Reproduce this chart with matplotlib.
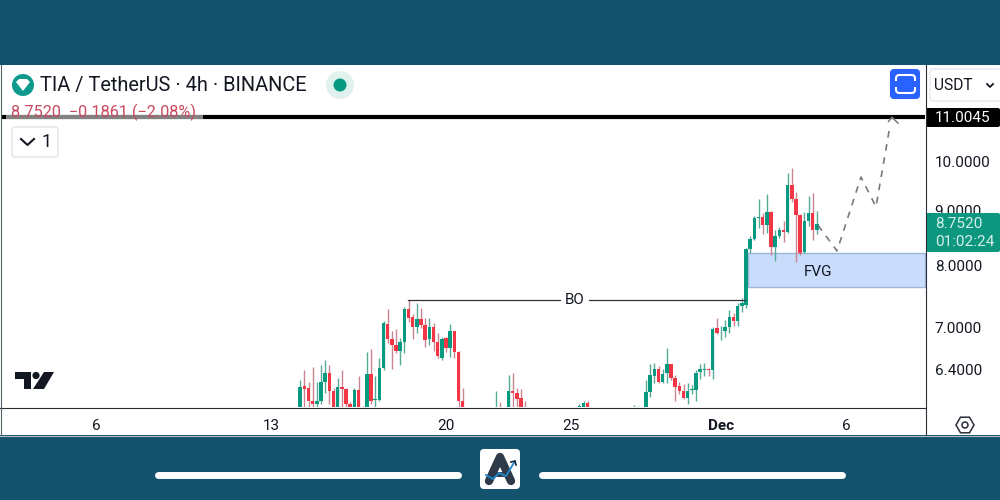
import matplotlib
matplotlib.use('Agg')
import matplotlib.pyplot as plt
from matplotlib.patches import FancyBboxPatch, Circle, Rectangle, Polygon
import numpy as np

plt.rcParams['font.family'] = ['Roboto', 'DejaVu Sans']

# 4h candles, index counted from 6 Nov (6 candles a day), hidden ones left out
candle_idx = (list(range(49, 89)) + [96, 97] + list(range(99, 104))
              + [116, 117, 118, 129, 130] + list(range(132, 174)))

opens = [5.85, 6.17, 6.14, 5.98, 5.93, 5.98, 6.22, 6.35, 6.10, 5.85,
         6.16, 6.13, 5.94, 5.85, 6.12, 5.88, 5.90, 6.33, 5.99, 5.99,
         6.42, 7.05, 6.83, 6.74, 6.66, 6.79, 7.28, 7.15, 7.00, 7.12,
         7.04, 6.82, 7.00, 6.79, 6.56, 6.84, 6.69, 6.94, 6.64, 5.97,
         5.82, 5.86,
         5.85, 6.11, 6.08, 6.01, 5.87,
         5.85, 5.85, 5.95, 5.85, 5.85,
         5.85, 6.09, 6.30, 6.40, 6.23, 6.34, 6.47, 6.28, 6.17, 6.10,
         6.01, 6.12, 6.12, 6.36, 6.39, 6.40, 6.39, 6.99, 6.94, 6.95,
         7.00, 7.15, 7.09, 7.33, 7.35, 8.28, 8.47, 8.85, 8.87, 8.72,
         8.98, 8.32, 8.52, 8.63, 8.60, 9.51, 9.23, 8.91, 8.23, 8.79,
         8.95, 8.63]
highs = [6.25, 6.38, 6.22, 6.43, 6.23, 6.45, 6.53, 6.46, 6.14, 6.28,
         6.38, 6.15, 5.96, 6.14, 6.30, 5.91, 6.64, 6.68, 6.30, 6.56,
         7.10, 7.28, 6.95, 6.98, 6.84, 7.31, 7.42, 7.21, 7.38, 7.29,
         7.14, 7.14, 7.06, 6.91, 6.85, 6.86, 7.05, 6.95, 6.66, 6.14,
         6.10, 5.96,
         6.32, 6.35, 6.14, 6.13, 5.97,
         5.94, 5.98, 5.97, 5.92, 5.91,
         6.25, 6.47, 6.48, 6.44, 6.40, 6.69, 6.47, 6.32, 6.23, 6.20,
         6.21, 6.18, 6.39, 6.47, 6.49, 6.42, 7.01, 7.14, 7.02, 7.11,
         7.27, 7.22, 7.37, 7.45, 8.30, 8.52, 8.90, 9.22, 8.95, 9.32,
         8.99, 8.63, 8.69, 8.79, 9.75, 9.86, 9.37, 8.94, 8.98, 9.29,
         9.34, 9.00]
lows = [5.80, 5.85, 5.85, 5.85, 5.85, 5.93, 6.08, 5.93, 5.80, 5.80,
        5.85, 5.85, 5.80, 5.80, 5.80, 5.80, 5.85, 5.93, 5.85, 5.97,
        6.39, 6.77, 6.40, 6.63, 6.45, 6.62, 7.08, 6.83, 6.91, 6.99,
        6.71, 6.74, 6.66, 6.55, 6.52, 6.64, 6.57, 6.56, 5.85, 5.80,
        5.80, 5.80,
        5.80, 5.85, 5.90, 5.80, 5.80,
        5.80, 5.80, 5.80, 5.80, 5.80,
        5.80, 6.03, 6.21, 6.21, 6.21, 6.21, 6.25, 5.98, 6.07, 6.00,
        5.94, 6.06, 5.98, 6.27, 6.30, 6.31, 6.27, 6.90, 6.81, 6.85,
        6.92, 7.02, 7.02, 7.24, 7.29, 8.22, 8.45, 8.67, 8.55, 8.57,
        8.18, 8.08, 8.49, 8.41, 8.58, 9.17, 8.05, 8.18, 8.21, 8.70,
        8.45, 8.55]
closes = [6.16, 6.13, 5.98, 5.93, 5.98, 6.22, 6.35, 6.10, 5.85, 6.16,
          6.13, 5.93, 5.85, 6.12, 5.85, 5.82, 6.33, 5.98, 6.00, 6.42,
          7.06, 6.83, 6.74, 6.65, 6.79, 7.28, 7.14, 7.00, 7.12, 7.04,
          6.81, 7.00, 6.79, 6.58, 6.82, 6.69, 6.94, 6.64, 5.97, 5.85,
          5.87, 5.82,
          6.10, 6.08, 6.00, 5.85, 5.82,
          5.91, 5.95, 5.85, 5.87, 5.87,
          6.09, 6.32, 6.40, 6.22, 6.33, 6.47, 6.28, 6.16, 6.10, 6.01,
          6.11, 6.13, 6.35, 6.40, 6.40, 6.38, 6.97, 6.92, 6.95, 7.00,
          7.16, 7.09, 7.33, 7.37, 8.28, 8.46, 8.85, 8.88, 8.72, 8.98,
          8.32, 8.52, 8.63, 8.60, 9.51, 9.23, 8.91, 8.21, 8.79, 8.95,
          8.63, 8.75]

# drawings on the chart (days since 6 Nov, price)
path_days = [28.88, 29.64, 30.6, 31.2, 31.76]
path_prices = [8.72, 8.25, 9.67, 9.07, 10.80]
arrow_days = [31.7, 31.84, 32.08]
arrow_prices = [10.9, 11.0, 10.86]
fvg_days = [26.08, 33.16]
fvg_prices = [7.63, 8.21]
bo_days = [12.48, 25.96]
bo_price = 7.43
target_price = 11.0045

price_ticks = [6.4, 7, 8, 9, 10]
price_labels = ['6.4000', '7.0000', '8.0000', '9.0000', '10.0000']
day_ticks = [0, 7, 14, 19, 25, 30]
day_labels = ['6', '13', '20', '25', 'Dec', '6']

TEAL = '#14536d'
GREEN = '#089981'
RED = '#f23645'

fig = plt.figure(figsize=(10, 5), dpi=100, facecolor=TEAL)


def chrome_axes(z):
    a = fig.add_axes([0, 0, 1, 1], zorder=z)
    a.set_xlim(0, 1000)
    a.set_ylim(500, 0)
    a.axis('off')
    a.patch.set_alpha(0)
    return a


def rbox(a, x, y, w, h, r, **kw):
    a.add_patch(FancyBboxPatch((x, y), w, h, boxstyle='round,pad=0,rounding_size=%g' % r, **kw))


back = chrome_axes(0)
back.add_patch(Rectangle((0, 64.5), 1000, 370.5, color='white', lw=0))

#---------------------------------------------------------------------------------
# price chart
#---------------------------------------------------------------------------------
ax = fig.add_axes([0.001, 93 / 500, 0.924, 342 / 500], zorder=1)
ax.patch.set_alpha(0)
ax.set_yscale('log')
ax.set_xlim(-3.8, 33.16)
ax.set_ylim(5.898, 12.307)
for s in ax.spines.values():
    s.set_visible(False)

days = np.array(candle_idx) / 6
o = np.array(opens)
c = np.array(closes)
up = c >= o
ax.vlines(days[up], np.array(lows)[up], np.array(highs)[up], color='#55ab98', lw=1.0, zorder=2)
ax.vlines(days[~up], np.array(lows)[~up], np.array(highs)[~up], color='#c98490', lw=1.0, zorder=2)
body_bottom = np.minimum(o, c)
body_height = np.maximum(np.abs(c - o), 0.012)
ax.bar(days, body_height, bottom=body_bottom, width=0.145,
       color=[GREEN if u else RED for u in up], lw=0, zorder=3)

ax.fill_between(fvg_days, fvg_prices[0], fvg_prices[1], facecolor='#c9dcfb',
                edgecolor='#9db7d6', lw=1, zorder=1)
ax.text(28.88, 7.89, 'FVG', fontsize=11, ha='center', va='center', color='#131722', zorder=5)
ax.plot(bo_days, [bo_price, bo_price], color='#333333', lw=0.9, zorder=4)
ax.text(19.16, bo_price, 'BO', fontsize=10.8, ha='center', va='center', color='#131722', zorder=5,
        bbox=dict(facecolor='white', edgecolor='none', pad=3))
ax.axhline(target_price, color='black', lw=3, zorder=4)
ax.plot(path_days, path_prices, color='#77797e', lw=1.2, dashes=(4, 4), zorder=5)
ax.plot(arrow_days, arrow_prices, color='#77797e', lw=1.1, zorder=5)

ax.yaxis.tick_right()
ax.minorticks_off()
ax.set_yticks(price_ticks)
ax.set_yticklabels(price_labels)
ax.set_xticks(day_ticks)
ax.set_xticklabels(day_labels)
ax.tick_params(axis='y', which='both', length=0, pad=7, labelsize=11, labelcolor='#131722')
ax.tick_params(axis='x', which='both', length=0, pad=9, labelsize=11, labelcolor='#131722')
ax.get_xticklabels()[4].set_fontweight('bold')

#---------------------------------------------------------------------------------
# everything around the chart
#---------------------------------------------------------------------------------
top = chrome_axes(2)
top.plot([0, 925], [407.5, 407.5], color='#2a2e39', lw=0.8)
top.plot([925.5, 925.5], [65, 435], color='#2a2e39', lw=0.8)
top.plot([0.5, 0.5], [65, 435], color='#55606a', lw=0.8)
top.plot([0, 1000], [435.5, 435.5], color='#b8bcc4', lw=0.8)

# header
top.add_patch(Circle((23, 85), 11, color='#0f9a8e', lw=0))
top.add_patch(Polygon([[16, 82], [19, 79], [27, 79], [30, 82], [23, 91]], color='white', lw=0))
top.text(40, 85, 'TIA / TetherUS · 4h · BINANCE', fontsize=14.45, va='center', color='#131722')
top.add_patch(Circle((340, 85), 14, color='#e1f1ee', lw=0))
top.add_patch(Circle((340, 85), 6.5, color=GREEN, lw=0))
top.text(11, 112, '8.7520  −0.1861 (−2.08%)', fontsize=11.7, va='center', color='#c9495f')
top.add_patch(Rectangle((6, 115), 197, 4, color='#9a9a9a', alpha=0.85, lw=0))

rbox(top, 12, 127, 46, 30, 3, facecolor='white', edgecolor='#e0e3eb', lw=1)
top.plot([21, 27.5, 34], [139, 145, 139], color='#131722', lw=1.5)
top.text(47, 142, '1', fontsize=13, ha='center', va='center', color='#131722')

# fullscreen button
rbox(top, 890, 69, 30, 30, 4, facecolor='#2962ff', edgecolor='none')
rbox(top, 896, 75, 19, 18, 3.5, facecolor='none', edgecolor='white', lw=1.5)
top.add_patch(Rectangle((893, 81), 25, 6, color='#2962ff', lw=0))

# price scale box and labels
rbox(top, 930, 69, 72, 32, 4, facecolor='white', edgecolor='#e6e8ee', lw=1)
top.text(934, 85, 'USDT', fontsize=11.2, va='center', color='#131722')
top.plot([987, 990, 993], [84, 87, 84], color='#131722', lw=1.3)

rbox(top, 926, 108, 74, 19, 2, facecolor='black', edgecolor='none')
top.text(935, 118, '11.0045', fontsize=11, va='center', color='white')
rbox(top, 926, 213, 74, 39, 2, facecolor='#0d977f', edgecolor='none')
top.text(935, 224, '8.7520', fontsize=11, va='center', color='#d5efe9')
top.text(935, 242, '01:02:24', fontsize=11, va='center', color='#d5efe9')

# tradingview mark
top.add_patch(Polygon([[15, 372], [31, 372], [31, 389], [24, 389], [24, 379], [15, 379]], color='#131722', lw=0))
top.add_patch(Circle((36, 375.5), 3.6, color='#131722', lw=0))
top.add_patch(Polygon([[44, 372], [54, 372], [44, 389], [33, 389]], color='#131722', lw=0))

# settings hexagon
angles = np.deg2rad(np.arange(0, 360, 60))
top.add_patch(Polygon(np.c_[965 + 9 * np.cos(angles), 425 + 9 * np.sin(angles)],
                      facecolor='none', edgecolor='#2a2e39', lw=1.1))
top.add_patch(Circle((965, 425), 3, facecolor='none', edgecolor='#2a2e39', lw=1.1))

# footer
top.plot([158, 458], [475, 475], color='white', lw=5, solid_capstyle='round')
top.plot([542, 842], [475, 475], color='white', lw=5, solid_capstyle='round')
rbox(top, 480, 449, 40, 40, 4, facecolor='white', edgecolor='none')
top.plot([489, 500, 511], [481, 457, 481], color='#2f3a48', lw=6, solid_capstyle='round', solid_joinstyle='round')
top.plot([495, 506], [474, 474], color='#2f3a48', lw=3.5)
top.plot([486, 493, 499, 506, 515], [475, 479, 473, 476, 461], color='#1e88d0', lw=1.3)
top.plot([511, 515, 516], [462, 461, 465], color='#1b2a3a', lw=1.2)

fig.savefig('out.png', dpi=100, facecolor=TEAL)
